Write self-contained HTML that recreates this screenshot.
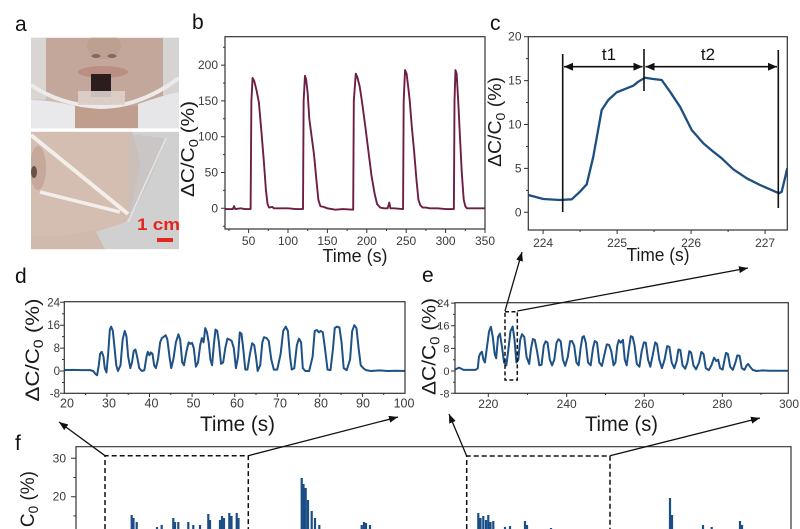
<!DOCTYPE html>
<html><head><meta charset="utf-8"><style>
html,body{margin:0;padding:0;background:#fff;width:800px;height:529px;overflow:hidden;}
svg{display:block;}
text{font-family:"Liberation Sans",Arial,sans-serif;}
</style></head><body>
<svg width="800" height="529" viewBox="0 0 800 529" xmlns="http://www.w3.org/2000/svg">
<defs>
<marker id="ah" markerWidth="9" markerHeight="7" refX="9" refY="3.5" orient="auto" markerUnits="userSpaceOnUse"><path d="M0,0 L9,3.5 L0,7 z" fill="#111"/></marker>
<marker id="ah2" markerWidth="9" markerHeight="8" refX="9" refY="4" orient="auto-start-reverse" markerUnits="userSpaceOnUse"><path d="M0,0 L9,4 L0,8 z" fill="#111"/></marker>
<clipPath id="cb"><rect x="225" y="36.7" width="260" height="192.3"/></clipPath>
<clipPath id="cc"><rect x="528.3" y="36.7" width="259" height="193.3"/></clipPath>
<clipPath id="cd"><rect x="64.3" y="301.7" width="340.7" height="91.6"/></clipPath>
<clipPath id="ce"><rect x="455" y="302.7" width="333.3" height="90.6"/></clipPath>
<clipPath id="p1"><rect x="31" y="37.7" width="148" height="90.6"/></clipPath>
<clipPath id="p2"><rect x="31" y="131.7" width="148" height="117.6"/></clipPath>
</defs>
<rect width="800" height="529" fill="#fff"/>

<!-- ===== Panel a photos ===== -->
<g clip-path="url(#p1)">
<rect x="31" y="37.7" width="148" height="90.6" fill="#cabdb5"/>
<path d="M45,37.7 H165 V95 Q140,110 105,108 Q70,108 45,95 Z" fill="#c2a79a"/>
<rect x="31" y="37.7" width="15" height="62" fill="#d8d5d2"/>
<rect x="163" y="37.7" width="16" height="58" fill="#d6d4d3"/>
<ellipse cx="104" cy="46" rx="17" ry="13" fill="#bea090"/>
<ellipse cx="96" cy="56" rx="4.5" ry="2" fill="#8a675d"/>
<ellipse cx="112" cy="56" rx="4.5" ry="2" fill="#8a675d"/>
<ellipse cx="103" cy="72" rx="25" ry="6" fill="#bb8e84"/>
<path d="M31,100 Q50,100 75,106 L75,128.3 H31 Z" fill="#e9e9ec"/>
<path d="M138,104 Q160,96 179,92 V128.3 H138 Z" fill="#e6e6e9"/>
<rect x="75" y="106" width="63" height="22.3" fill="#bf9e8e"/>
<path d="M31,85 Q60,105 100,107 Q140,107 179,78" stroke="#ecebea" stroke-width="4" fill="none"/>
<rect x="91" y="74" width="20" height="23" fill="#2b1d1d"/>
<rect x="78" y="91" width="47" height="14" fill="#dcd1cb" opacity="0.9"/>
</g>
<g clip-path="url(#p2)">
<rect x="31" y="131.7" width="148" height="117.6" fill="#d1d0d1"/>
<path d="M31,131.7 H132 Q138,150 140,165 Q136,185 133,200 Q130,215 126,222 Q110,228 80,236 Q55,240 31,243 Z" fill="#d4bdb1"/>
<path d="M31,236 Q60,238 95,230 L105,249.3 H31 Z" fill="#d0b9ad"/>
<ellipse cx="38" cy="168" rx="8" ry="22" fill="#c6a99b"/>
<ellipse cx="34" cy="172" rx="3" ry="6" fill="#6a5048"/>
<polygon points="128,134 166,138 150,180 128,222" fill="#c4bfbd" opacity="0.6"/>
<line x1="166" y1="138" x2="128" y2="222" stroke="#e6e4e4" stroke-width="1.5"/>
<line x1="31" y1="135" x2="128" y2="214" stroke="#f2eeea" stroke-width="4"/>
<line x1="40" y1="192" x2="120" y2="212" stroke="#f2eeea" stroke-width="3.5"/>
<text x="137" y="230" font-size="17" font-weight="bold" fill="#e3261f" textLength="43" lengthAdjust="spacingAndGlyphs">1 cm</text>
<rect x="157" y="238" width="16" height="4" fill="#e3261f"/>
</g>

<!-- Panel labels -->
<g font-size="21" fill="#111">
<text x="15" y="31">a</text>
<text x="192" y="29">b</text>
<text x="490" y="30">c</text>
<text x="15" y="283">d</text>
<text x="422" y="282">e</text>
<text x="15" y="450">f</text>
</g>

<!-- ===== Panel b ===== -->
<g clip-path="url(#cb)">
<polyline fill="none" stroke="#6d1e45" stroke-width="1.9" vector-effect="non-scaling-stroke" stroke-linejoin="round"
transform="translate(209.24,208.3) scale(0.78788,-0.716)"
points="20,-1 30,-1 31.5,3 33,-1 40,0 45,-1 52.5,-1 53.5,150 55,182 57,178 60,165 63,148 66,110 69,70 72,25 74,6 76,1 80,2 82,0 90,0 100,0 110,-1 119,-1 119.8,150 121.5,185 123,180 125,160 127,125 130,100 133,75 136,40 138.5,12 141,3 145,2 150,0 160,-2 170,-1 182.7,-2 183.5,150 186,188 188,183 191,170 194,148 198,115 202,80 206,45 210,20 213,6 217,1 222,0 226.5,0 228.5,8 230,0 235,0 245,-1 246,-1 246.8,150 248.5,193 250.5,188 253,165 254.5,150 257,115 260,80 263,40 265.5,12 268,4 271,1 275,1 280,0 290,0 300,-1 310.5,-1 311.3,150 312.5,193 314,188 316,150 318,105 320.5,50 323,12 325,3 327,0 335,0 350,0"/>
</g>
<rect x="225" y="36.7" width="260" height="192.3" fill="none" stroke="#333" stroke-width="1.2"/>
<path d="M221,208.3H225M221,172.5H225M221,136.7H225M221,100.9H225M221,65.1H225M223,226.2H225M223,190.4H225M223,154.6H225M223,118.8H225M223,83H225M223,47.2H225
M248.6,229V233M288,229V233M327.4,229V233M366.8,229V233M406.2,229V233M445.6,229V233M485,229V233
M228.9,229V231M268.3,229V231M307.7,229V231M347.1,229V231M386.5,229V231M425.9,229V231M465.3,229V231" stroke="#333" stroke-width="1"/>
<g font-size="12" fill="#3a3a3a" text-anchor="end">
<text x="218" y="212.3">0</text><text x="218" y="176.5">50</text><text x="218" y="140.7">100</text><text x="218" y="104.9">150</text><text x="218" y="69.1">200</text>
</g>
<g font-size="12" fill="#3a3a3a" text-anchor="middle">
<text x="248.6" y="245">50</text><text x="288" y="245">100</text><text x="327.4" y="245">150</text><text x="366.8" y="245">200</text><text x="406.2" y="245">250</text><text x="445.6" y="245">300</text><text x="485" y="245">350</text>
</g>
<text x="355" y="262" font-size="18" fill="#1a1a1a" text-anchor="middle" textLength="65" lengthAdjust="spacingAndGlyphs">Time (s)</text>
<text transform="translate(194,149) rotate(-90)" font-size="18" fill="#1a1a1a" text-anchor="middle" textLength="96" lengthAdjust="spacingAndGlyphs">ΔC/C<tspan dy="4" font-size="13">0</tspan><tspan dy="-4"> (%)</tspan></text>

<!-- ===== Panel c ===== -->
<g clip-path="url(#cc)">
<polyline fill="none" stroke="#1d4f7f" stroke-width="2.3" stroke-linejoin="round"
points="528.3,195 543.3,199 560,200 571.7,199.3 580,191.7 586.7,184.3 593.3,156.7 601.7,110 608.3,100 616.7,92.3 626.7,88.3 633.3,85.7 638.3,81.7 645,77.7 653.3,79 661.7,80 670,91.7 680,106.7 691.7,130 703.3,143.3 713.3,151.7 721.7,158.3 733.3,169.3 746.7,178.3 760,185 770,189.3 779,193.3 781.7,191.7 787.3,168.3"/>
</g>
<rect x="528.3" y="36.7" width="259" height="193.3" fill="none" stroke="#333" stroke-width="1.2"/>
<path d="M524,212.3H528.3M524,168.4H528.3M524,124.5H528.3M524,80.6H528.3M524,36.7H528.3M526,190.35H528.3M526,146.45H528.3M526,102.55H528.3M526,58.65H528.3
M543.1,230V234M617.1,230V234M691.1,230V234M765.1,230V234M580.1,230V232M654.1,230V232M728.1,230V232" stroke="#333" stroke-width="1"/>
<g font-size="12" fill="#3a3a3a" text-anchor="end">
<text x="521.5" y="216.3">0</text><text x="521.5" y="172.4">5</text><text x="521.5" y="128.5">10</text><text x="521.5" y="84.6">15</text><text x="521.5" y="40.7">20</text>
</g>
<g font-size="12" fill="#3a3a3a" text-anchor="middle">
<text x="543.1" y="247">224</text><text x="617.1" y="247">225</text><text x="691.1" y="247">226</text><text x="765.1" y="247">227</text>
</g>
<text x="658" y="261" font-size="18" fill="#1a1a1a" text-anchor="middle" textLength="63" lengthAdjust="spacingAndGlyphs">Time (s)</text>
<text transform="translate(501,122) rotate(-90)" font-size="18" fill="#1a1a1a" text-anchor="middle" textLength="90" lengthAdjust="spacingAndGlyphs">ΔC/C<tspan dy="4" font-size="13">0</tspan><tspan dy="-4"> (%)</tspan></text>
<g stroke="#111" stroke-width="1.6" fill="none">
<line x1="562.7" y1="54" x2="562.7" y2="212"/>
<line x1="644" y1="49" x2="644" y2="91"/>
<line x1="778.3" y1="50" x2="778.3" y2="208"/>
<line x1="564" y1="66.7" x2="642.5" y2="66.7" marker-start="url(#ah2)" marker-end="url(#ah2)"/>
<line x1="645.5" y1="66.7" x2="777" y2="66.7" marker-start="url(#ah2)" marker-end="url(#ah2)"/>
</g>
<text x="609" y="60" font-size="17" fill="#111" text-anchor="middle">t1</text>
<text x="708" y="60" font-size="17" fill="#111" text-anchor="middle">t2</text>

<!-- ===== Panel d ===== -->
<g clip-path="url(#cd)">
<polyline fill="none" stroke="#1e5185" stroke-width="2" vector-effect="non-scaling-stroke" stroke-linejoin="round"
transform="translate(-20.88,371) scale(4.259,-2.8625)"
points="20,0.3 22,0.4 24,0.3 26,0.3 26.8,0 27.3,-1 27.7,-1.5 28.1,2 28.4,6 28.8,6.7 29.2,5 29.5,1 29.9,-0.5 30.3,6 30.7,14.5 31,15.5 31.4,14 31.8,8 32.2,2 32.6,0 33.2,2 33.7,11 34.2,14 34.6,12 35,5 35.5,1 35.9,3 36.3,7 36.7,7.5 37.1,5 37.6,1 38.2,0 38.8,0.3 39.3,5 39.6,6.7 40,5.5 40.3,6.5 40.7,6 41.1,2 41.5,1 42,4 42.5,10 42.9,11.5 43.4,12 43.8,12.5 44.2,11 44.7,5 45.1,1 45.6,4 46.2,10 46.8,12.8 47.2,11 47.7,3 48.1,2 48.7,7 49.2,10 49.6,9.5 50,9.8 50.4,8 50.9,1.5 51.4,3 51.9,9 52.3,11.5 52.7,10 53.1,15 53.5,13.5 53.9,10 54.3,4 54.7,2 55.1,9 55.5,14.5 55.9,14 56.3,10 56.8,2.5 57.3,3 57.8,8 58.3,11.3 58.8,11 59.3,10.5 59.8,8 60.3,1 60.8,5 61.2,13.5 61.6,13 62,8 62.5,0.5 63,0.5 63.6,6 64.1,9.7 64.6,9 65,5 65.4,0 66,2 66.5,10 66.9,11.8 67.5,11.5 68,10.5 68.6,4 69.2,0.5 70,0.5 70.8,6 71.4,14 72,15.5 72.5,14 73,5 73.4,0.5 74,1 74.6,9 75.1,11.3 75.6,10 76,1 76.6,0 77.5,0 78.3,5 78.8,14 79.3,14.3 79.8,13.5 80.2,14 80.7,13.5 81.2,8 81.8,0.5 82.5,0.3 83.1,8 83.5,15 84,15.5 84.6,15.2 85.1,10 85.6,1 86.3,0.3 87.1,4 87.6,14 88.1,16 88.6,15 89.1,8 89.6,2 90.2,1 90.8,0.3 92,0 94,0.2 96,0 98,0.1 100,0"/>
</g>
<rect x="64.3" y="301.7" width="340.7" height="91.6" fill="none" stroke="#333" stroke-width="1.2"/>
<path d="M60,302.3H64.3M60,325.2H64.3M60,348.1H64.3M60,371H64.3M60,393.3H64.3M62,313.75H64.3M62,336.65H64.3M62,359.55H64.3M62,382.45H64.3
M106.9,393.3V397M149.5,393.3V397M192.1,393.3V397M234.7,393.3V397M277.3,393.3V397M319.8,393.3V397M362.4,393.3V397
M85.6,393.3V395M128.2,393.3V395M170.8,393.3V395M213.4,393.3V395M256,393.3V395M298.6,393.3V395M341.1,393.3V395M383.7,393.3V395" stroke="#333" stroke-width="1"/>
<g font-size="11.5" fill="#3a3a3a" text-anchor="end">
<text x="60" y="306.3">24</text><text x="60" y="329.2">16</text><text x="60" y="352.1">8</text><text x="60" y="375">0</text><text x="60" y="397.3">-8</text>
</g>
<g font-size="12.5" fill="#3a3a3a" text-anchor="middle">
<text x="67" y="407.5">20</text><text x="109" y="407.5">30</text><text x="151.5" y="407.5">40</text><text x="193.5" y="407.5">50</text><text x="237" y="407.5">60</text><text x="280" y="407.5">70</text><text x="321" y="407.5">80</text><text x="363" y="407.5">90</text><text x="404" y="407.5">100</text>
</g>
<text x="237.5" y="431" font-size="21" fill="#1a1a1a" text-anchor="middle" textLength="75" lengthAdjust="spacingAndGlyphs">Time (s)</text>
<text transform="translate(39,350) rotate(-90)" font-size="19" fill="#1a1a1a" text-anchor="middle" textLength="103" lengthAdjust="spacingAndGlyphs">ΔC/C<tspan dy="4" font-size="13.5">0</tspan><tspan dy="-4"> (%)</tspan></text>

<!-- ===== Panel e ===== -->
<g clip-path="url(#ce)">
<polyline fill="none" stroke="#1e5185" stroke-width="2" vector-effect="non-scaling-stroke" stroke-linejoin="round"
transform="translate(-336.7,371) scale(3.75,-2.83)"
points="211.1,0.5 211.6,0.8 212.2,1.2 212.8,0.8 213.4,0.4 214.5,0.4 215.5,0.4 216.6,0.4 217.2,1 217.5,5 217.9,6.3 218.3,6.8 218.7,4 219.1,3 219.6,8 220.2,14 220.7,15.6 221.2,12 221.7,6 222.1,4.5 222.6,12 223.1,13.2 223.6,9 224.2,3 224.8,2 225.3,7 225.9,14 226.5,15.7 227,11 227.5,3 228,4 228.5,11 229,13 229.6,12 230.2,5 230.9,2.5 231.4,8 231.9,11.3 232.4,11 233,7 233.6,2 234.2,2.2 234.8,9 235.3,10.5 235.8,10 236.4,4 237,2 237.6,4 238.2,10 238.7,11.2 239.3,10.5 239.9,4 240.5,1.8 241.2,5 241.8,10.5 242.3,10.6 242.9,9 243.5,3 244.1,2 244.6,8 245.1,12 245.5,12.3 246,10 246.6,3 247.3,2 247.9,8 248.4,10.6 249,10 249.6,3 250.3,1.8 251,6 251.6,9.4 252.2,9.2 252.8,7 253.4,2 253.9,3 254.4,9 254.8,10.9 255.3,10 255.9,11 256.4,4 256.9,2 257.5,8 258,12.3 258.5,12 259,9 259.6,2.5 260.3,1.5 260.9,7 261.5,10.1 262,10 262.6,4 263.2,1.5 263.9,6 264.5,10.1 265,9.5 265.6,4 266.3,1 267,4 267.7,8.8 268.3,8.5 268.9,3 269.6,1 270.2,3.5 270.7,7.6 271.2,7.4 271.8,2 272.5,0.8 273.1,3 273.6,7 274.1,6.5 274.7,2 275.4,0.6 276.2,3 276.8,6.7 277.4,6 278,1 278.8,0.3 279.5,2 280.2,4.7 280.8,3.5 281.3,4 281.8,1 282.5,0.5 283,4 283.4,6.4 283.9,6 284.5,1.5 285.2,0.4 285.9,3 286.4,5.5 287,5.4 287.6,1 288.3,0.4 288.9,2 289.3,2.5 289.8,1.5 290.5,0.4 291.5,0 293,0.2 295,0.1 297,0.1 300,0.1"/>
</g>
<rect x="455" y="302.7" width="333.3" height="90.6" fill="none" stroke="#333" stroke-width="1.2"/>
<path d="M451,303.1H455M451,325.7H455M451,348.4H455M451,371H455M451,393.3H455M453,314.4H455M453,337H455M453,359.7H455M453,382.3H455
M488.3,393.3V397M566.7,393.3V397M644.3,393.3V397M722.3,393.3V397M527.5,393.3V395M605.5,393.3V395M683.3,393.3V395M761,393.3V395" stroke="#333" stroke-width="1"/>
<g font-size="11" fill="#3a3a3a" text-anchor="end">
<text x="449.5" y="307.1">24</text><text x="449.5" y="329.7">16</text><text x="449.5" y="352.4">8</text><text x="449.5" y="375">0</text><text x="449.5" y="397.3">-8</text>
</g>
<g font-size="12" fill="#3a3a3a" text-anchor="middle">
<text x="488.3" y="408">220</text><text x="566.7" y="408">240</text><text x="644.3" y="408">260</text><text x="722.3" y="408">280</text><text x="789" y="408">300</text>
</g>
<text x="621.5" y="431" font-size="21" fill="#1a1a1a" text-anchor="middle" textLength="73" lengthAdjust="spacingAndGlyphs">Time (s)</text>
<text transform="translate(435.5,346.5) rotate(-90)" font-size="19" fill="#1a1a1a" text-anchor="middle" textLength="97" lengthAdjust="spacingAndGlyphs">ΔC/C<tspan dy="4" font-size="13.5">0</tspan><tspan dy="-4"> (%)</tspan></text>
<rect x="505" y="311.7" width="12.3" height="68.3" fill="none" stroke="#111" stroke-width="1.5" stroke-dasharray="4,2.5"/>

<!-- ===== Panel f ===== -->
<path d="M131.7,529V515M133.5,529V518M136.7,529V522M157,529V527M161.7,529V525M173.3,529V518M175,529V522M178.3,529V522M188.3,529V522M193.3,529V525M200,529V525M208.3,529V514M210,529V520M220,529V520M222,529V516M224,529V518M229.3,529V513M231.5,529V516M236.7,529V513M238.5,529V518
M301.7,529V478M303.5,529V484M305.7,529V488M308,529V500M311.7,529V511M315,529V518M319.3,529V525M361.7,529V525M364,529V522M366,529V523M370,529V525
M478.3,529V513M480.5,529V518M483.3,529V516M486,529V520M488.3,529V515M490.5,529V522M493.3,529V521M505,529V527M510,529V526M525,529V521M527,529V525
M551,529V528M670,529V498M672,529V515M703,529V525M711.7,529V527M740,529V521M742,529V525" stroke="#1b4e85" stroke-width="2.2"/>
<path d="M76,529V446.7H791V529" fill="none" stroke="#333" stroke-width="1.2"/>
<path d="M71,458.3H76M71,496.7H76M73.5,477.5H76M73.5,515.9H76" stroke="#333" stroke-width="1"/>
<g font-size="12" fill="#3a3a3a" text-anchor="end">
<text x="66" y="462.3">30</text><text x="66" y="500.7">20</text>
</g>
<text transform="translate(34,471) rotate(-90)" font-size="19" fill="#1a1a1a" text-anchor="end">C<tspan dy="4" font-size="13.5">0</tspan><tspan dy="-4"> (%)</tspan></text>
<g fill="none" stroke="#111" stroke-width="1.5" stroke-dasharray="5,3">
<path d="M105,529V455.7H248.3V529"/>
<path d="M466.7,529V456H610V529"/>
</g>

<!-- ===== Zoom arrows ===== -->
<g stroke="#111" stroke-width="1.3" fill="none">
<line x1="505" y1="311" x2="522" y2="252" marker-end="url(#ah)"/>
<line x1="517.3" y1="311" x2="748" y2="268" marker-end="url(#ah)"/>
<line x1="105" y1="455.7" x2="59" y2="422" marker-end="url(#ah)"/>
<line x1="248.3" y1="455.7" x2="398" y2="417" marker-end="url(#ah)"/>
<line x1="466.7" y1="456" x2="449" y2="414" marker-end="url(#ah)"/>
<line x1="610" y1="455.7" x2="760" y2="418" marker-end="url(#ah)"/>
</g>
</svg>
</body></html>
